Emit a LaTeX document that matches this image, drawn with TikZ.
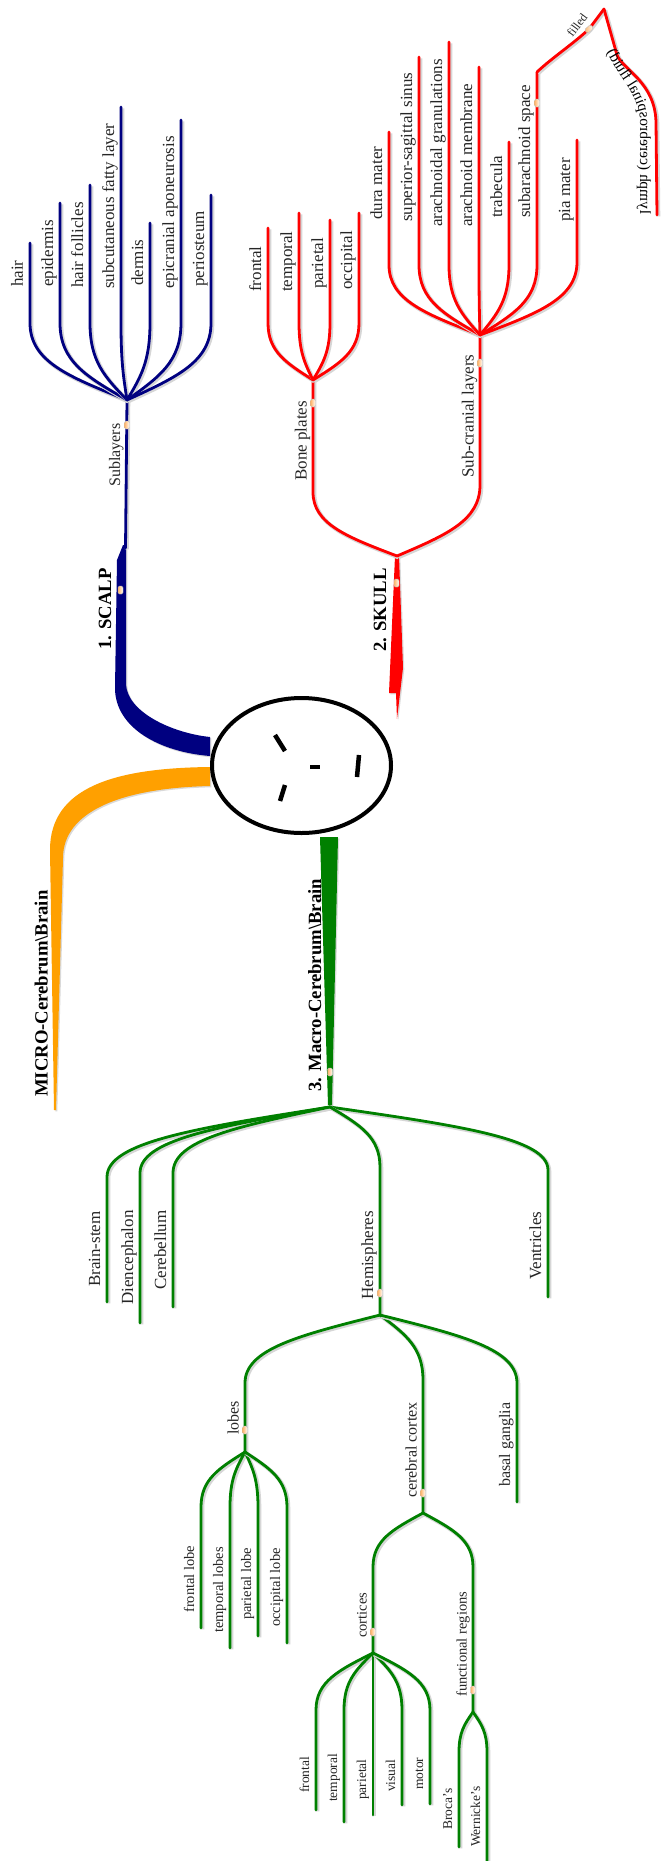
\documentclass[tikz,border=0pt]{standalone}
\usepackage{fontspec}
\setmainfont{Liberation Serif}
\usetikzlibrary{calc,shapes.geometric,decorations.text}

\definecolor{scalpc}{RGB}{0,0,128}
\definecolor{skullc}{RGB}{255,0,0}
\definecolor{macroc}{RGB}{0,128,0}
\definecolor{microc}{RGB}{255,160,0}

% font sizes per level
\newcommand\fMain{\fontsize{18.7}{22}\bfseries\selectfont}
\newcommand\fA{\fontsize{17}{20}\selectfont}
\newcommand\fB{\fontsize{16}{19}\selectfont}
\newcommand\fC{\fontsize{14.5}{17}\selectfont}
\newcommand\fD{\fontsize{13.5}{16}\selectfont}
\newcommand\fS{\fontsize{12}{14}\selectfont}
\newcommand\fLy{\fontsize{15.5}{18}\selectfont}

\tikzset{
  br/.style={line width=2.8pt, line cap=round, line join=round,
    preaction={draw=black!16, line width=4pt, transform canvas={xshift=1.3pt,yshift=-1.3pt}}},
  scb/.style={br, draw=scalpc},
  skb/.style={br, draw=skullc},
  mcb/.style={br, draw=macroc},
  fshadow/.style={preaction={fill=black!15, transform canvas={xshift=1.3pt,yshift=-1.3pt}}},
  lbl/.style={rotate=90, inner sep=0pt, anchor=base west, text=black!85},
  mk/.style={rectangle, rounded corners=1.5pt, minimum width=5pt, minimum height=8pt,
    inner sep=0pt, left color=orange!60, right color=white, draw=black!25, line width=0.4pt},
  face/.style={line width=4.5pt, line cap=butt},
}

% curved twig from a fan point (#2) to a bend (#3), then straight to (#4)
\newcommand\mmtwig[4]{\draw[#1] let \p1=(#2), \p2=(#3) in (#2)
  .. controls ({\x1+0.6*(\x2-\x1)},{\y1+0.3*(\y2-\y1)}) and ({\x2},{\y2-0.5*(\y2-\y1)}) .. (#3) -- (#4);}

% leaf: style, name, parent, x, bend y, end y, label start y, text
\newcommand\mmleaf[8]{%
  \coordinate (#2-b) at (#4,#5);
  \coordinate (#2-e) at (#4,#6);
  \mmtwig{#1}{#3}{#2-b}{#2-e}
  \node[lbl] (#2) at ({#4-7},#7) {#8};}

\begin{document}
\begin{tikzpicture}[x=1pt,y=-1pt]
\path[use as bounding box, fill=white] (0,0) rectangle (661,1861);

% ---------- main trunks ----------
\fill[microc, fshadow] (210,767) .. controls (115,768) and (50,787) .. (50,850)
  -- (54,1110) -- (56,1110) -- (63,858) .. controls (63,812) and (120,788) .. (210,786) -- cycle;
\fill[scalpc, fshadow] (123,545) -- (117,560) -- (115,688) .. controls (115,728) and (160,752) .. (210,756)
  -- (210,737) .. controls (172,733) and (127,712) .. (126,684) -- (126,545) -- cycle;
\fill[skullc, fshadow] (395,556) -- (389,693) -- (396,693) -- (397,719) -- (403,668) -- (399,556) -- cycle;
\fill[macroc, fshadow] (320,837) -- (338,837) -- (332,1105) -- (328,1105) -- cycle;

% ---------- centre ----------
\node[ellipse, draw=black, line width=4pt, fill=white, minimum width=179pt, minimum height=135pt,
  inner sep=0pt] (root) at (301.5,765.5) {};
\draw[face] (275,735) -- (285,751);
\draw[face] (310,767) -- (320,767);
\draw[face] (285,785) -- (280,801);
\draw[face] (359,755) -- (357,777);

% ---------- 1. SCALP ----------
\node[lbl, font=\fMain, text=black] (scalp) at (111,650) {1. SCALP};
\coordinate (scalpTop) at (125.5,548);
\coordinate (subF) at (127,400);
\draw[scb] (scalpTop) -- (subF);
\node[lbl] (sublayers) at (120,487) {\fB Sublayers};
\mmleaf{scb}{sc-hair}{subF}{30}{323}{243}{287}{\fA hair}
\mmleaf{scb}{sc-epi}{subF}{60}{323}{203}{287}{\fA epidermis}
\mmleaf{scb}{sc-fol}{subF}{90}{323}{185}{288}{\fA hair follicles}
\mmleaf{scb}{sc-sub}{subF}{121}{323}{107}{289}{\fA subcutaneous fatty layer}
\mmleaf{scb}{sc-der}{subF}{150}{323}{223}{286}{\fA dermis}
\mmleaf{scb}{sc-epic}{subF}{181}{323}{120}{289}{\fA epicranial aponeurosis}
\mmleaf{scb}{sc-peri}{subF}{211}{323}{195}{287}{\fA periosteum}

% ---------- 2. SKULL ----------
\node[lbl, font=\fMain, text=black] (skull) at (386,652) {2. SKULL};
\coordinate (skF) at (397,556);
\coordinate (bpB) at (313,492);
\coordinate (bpF) at (313,380);
\mmtwig{skb}{skF}{bpB}{bpF}
\node[lbl] (boneplates) at (306.5,481) {\fA Bone plates};
\coordinate (slB) at (480,485);
\coordinate (slF) at (480,335);
\mmtwig{skb}{skF}{slB}{slF}
\node[lbl] (subcranial) at (473.5,478) {\fA Sub-cranial layers};

\mmleaf{skb}{bp-fr}{bpF}{268}{323}{228}{292}{\fA frontal}
\mmleaf{skb}{bp-te}{bpF}{299}{323}{213}{292}{\fA temporal}
\mmleaf{skb}{bp-pa}{bpF}{330}{323}{220}{289}{\fA parietal}
\mmleaf{skb}{bp-oc}{bpF}{359}{323}{213}{290}{\fA occipital}

\mmleaf{skb}{sl-dura}{slF}{389}{265}{132}{220}{\fA dura mater}
\mmleaf{skb}{sl-sup}{slF}{419}{265}{57}{222}{\fA superior-sagittal sinus}
\mmleaf{skb}{sl-gran}{slF}{449}{265}{42}{227}{\fA arachnoidal granulations}
\mmleaf{skb}{sl-arach}{slF}{479}{265}{67}{227}{\fA arachnoid membrane}
\mmleaf{skb}{sl-trab}{slF}{509}{265}{142}{218}{\fA trabecula}
\mmleaf{skb}{sl-suba}{slF}{537}{265}{72}{218}{\fA subarachnoid space}
\mmleaf{skb}{sl-pia}{slF}{577}{262}{140}{222}{\fA pia mater}

% filled -> lymph (cerebrospinal fluid)
\coordinate (filledP) at (589,29);
\coordinate (peak) at (604,9);
\coordinate (lymphE) at (657,215);
\draw[skb] (sl-suba-e) .. controls (553,57) and (573,44) .. (filledP) -- (peak);
\draw[skb] (peak) -- (617,55) .. controls (623,70) and (655,82) .. (656,122) -- (lymphE);
\node[rotate=53, inner sep=0pt, text=black!85] (filled) at (577,25) {\fS filled};
% the lymph label is set mirrored along the curve
\begin{scope}[transform canvas={xscale=-1}]
  \path[decorate, decoration={text along path,
      text={|\fLy|lymph (cerebrospinal fluid)}}]
    (-640,214) -- (-640,120) .. controls (-639,92) and (-613,74) .. (-600,36);
\end{scope}

% ---------- MICRO ----------
\node[lbl, font=\fMain, text=black] (micro) at (47.5,1097) {MICRO-Cerebrum\textbackslash Brain};

% ---------- 3. Macro ----------
\node[lbl, font=\fMain, text=black] (macro) at (321,1092) {3. Macro-Cerebrum\textbackslash Brain};
\coordinate (mcF) at (330,1107);
\mmleaf{mcb}{mc-stem}{mcF}{107}{1177}{1302}{1287}{\fA Brain-stem}
\mmleaf{mcb}{mc-dien}{mcF}{140}{1173}{1323}{1305}{\fA Diencephalon}
\mmleaf{mcb}{mc-cereb}{mcF}{173}{1173}{1307}{1290}{\fA Cerebellum}
\mmleaf{mcb}{mc-vent}{mcF}{548}{1170}{1297}{1280}{\fA Ventricles}
\coordinate (hemB) at (380,1167);
\coordinate (hemF) at (380,1315);
\mmtwig{mcb}{mcF}{hemB}{hemF}
\node[lbl] (hemispheres) at (373,1300) {\fA Hemispheres};

\coordinate (lobB) at (245,1383);
\coordinate (lobF) at (245,1452);
\mmtwig{mcb}{hemF}{lobB}{lobF}
\node[lbl] (lobes) at (238.5,1435) {\fB lobes};
\coordinate (ccB) at (423,1380);
\coordinate (ccF) at (423,1513);
\mmtwig{mcb}{hemF}{ccB}{ccF}
\node[lbl] (cortex) at (416.5,1498) {\fB cerebral cortex};
\mmleaf{mcb}{hm-basal}{hemF}{517}{1383}{1502}{1487}{\fB basal ganglia}

\mmleaf{mcb}{lb-fr}{lobF}{201}{1507}{1628}{1613}{\fC frontal lobe}
\mmleaf{mcb}{lb-te}{lobF}{230}{1507}{1648}{1633}{\fC temporal lobes}
\mmleaf{mcb}{lb-pa}{lobF}{258}{1507}{1636}{1620}{\fC parietal lobe}
\mmleaf{mcb}{lb-oc}{lobF}{287}{1507}{1643}{1627}{\fC occipital lobe}

\coordinate (corB) at (373,1567);
\coordinate (corF) at (373,1653);
\mmtwig{mcb}{ccF}{corB}{corF}
\node[lbl] (cortices) at (366.5,1638) {\fC cortices};
\coordinate (frB) at (473,1567);
\coordinate (frF) at (473,1712);
\mmtwig{mcb}{ccF}{frB}{frF}
\node[lbl] (functional) at (466.5,1697) {\fC functional regions};

\mmleaf{mcb}{cx-fr}{corF}{316}{1710}{1810}{1793}{\fD frontal}
\mmleaf{mcb}{cx-te}{corF}{344}{1710}{1822}{1802}{\fD temporal}
\mmleaf{mcb}{cx-pa}{corF}{373}{1710}{1815}{1800}{\fD parietal}
\mmleaf{mcb}{cx-vi}{corF}{402}{1710}{1805}{1792}{\fD visual}
\mmleaf{mcb}{cx-mo}{corF}{430}{1710}{1804}{1790}{\fD motor}

\mmleaf{mcb}{fr-broca}{frF}{459}{1752}{1847}{1830}{\fD Broca's}
\mmleaf{mcb}{fr-wern}{frF}{487}{1752}{1861}{1847}{\fD Wernicke's}

% ---------- node markers ----------
\node[mk] (mScalp) at (120.5,590) {};
\node[mk] (mSub) at (127,425) {};
\node[mk] (mSkull) at (396.5,583) {};
\node[mk] (mBone) at (313,403) {};
\node[mk] (mLayers) at (480,363) {};
\node[mk] (mSuba) at (537,103) {};
\node[mk, rotate=-50] (mFilled) at (filledP) {};
\node[mk] (mMacro) at (330,1072) {};
\node[mk] (mHem) at (380,1293) {};
\node[mk] (mLobes) at (245,1430) {};
\node[mk] (mCortex) at (423,1493) {};
\node[mk] (mCortices) at (373,1632) {};
\node[mk] (mFunc) at (473,1690) {};
\end{tikzpicture}
\end{document}
